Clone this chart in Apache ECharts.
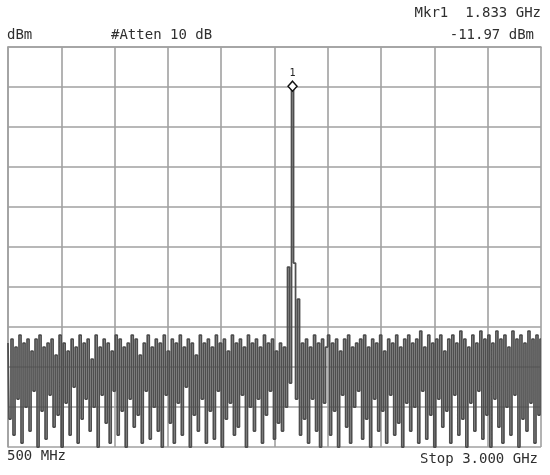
<!DOCTYPE html>
<html style="height: 100%">
<head>
    <meta charset="utf-8">
    <title>Spectrum</title>
</head>
<body style="margin: 0; background: #fff">
<div id="container" style="width: 550px; height: 475px"></div>

<script src="https://cdn.jsdelivr.net/npm/echarts@6/dist/echarts.min.js" type="text/javascript"></script>
<script type="text/javascript">

    // sweep settings (MHz) and reading labels
    var startFreq = 500;
    var stopFreq = 3000;
    var refTop = 0;       // dBm at top graticule line
    var refBottom = -100; // dBm at bottom graticule line
    var divDb = 10;
    var divFreq = 250;

    var headerLeft = ['dBm', '#Atten 10 dB'];
    var markerText = ['Mkr1  1.833 GHz', '-11.97 dBm'];
    var footerText = ['500 MHz', 'Stop 3.000 GHz'];

    // trace amplitude (dBm), one value per sweep point
    var trace = [
        -74,-93,-73,-97,-75,-88,-72,-99,-74,-90,-73,-96,-76,-86,-73,-100,-72,-91,-75,-98,
        -74,-87,-73,-95,-77,-92,-72,-100,-74,-89,-76,-97,-73,-85,-75,-99,-72,-93,-74,-88,
        -73,-96,-78,-90,-72,-100,-75,-87,-73,-94,-74,-99,-76,-86,-72,-97,-73,-91,-75,-100,
        -74,-88,-72,-95,-73,-92,-77,-99,-74,-86,-72,-98,-75,-90,-73,-96,-74,-100,-72,-87,
        -76,-94,-73,-99,-74,-89,-72,-97,-75,-85,-73,-100,-74,-92,-77,-96,-72,-88,-74,-99,
        -73,-91,-75,-98,-72,-86,-74,-100,-73,-93,-76,-89,-72,-97,-74,-95,-73,-87,-75,-100,
        -72,-90,-74,-96,-73,-88,-75,-99,-72,-92,-74,-86,-73,-98,-76,-94,-74,-96,-75,-90,
        -55,-84,-9.8,-54,-88,-63,-97,-74,-93,-73,-99,-75,-88,-72,-96,-74,-100,-73,-89,-75,
        -72,-97,-74,-91,-73,-100,-76,-87,-73,-95,-72,-99,-75,-90,-74,-86,-73,-98,-72,-93,
        -75,-100,-73,-88,-74,-96,-72,-91,-76,-99,-73,-87,-74,-97,-72,-94,-75,-100,-73,-89,
        -72,-96,-74,-90,-73,-99,-71,-86,-75,-98,-72,-92,-74,-100,-73,-88,-72,-95,-76,-91,
        -73,-99,-72,-87,-74,-97,-71,-93,-73,-100,-75,-89,-72,-96,-74,-86,-71,-98,-73,-92,
        -72,-100,-74,-88,-71,-95,-73,-99,-72,-90,-75,-97,-71,-87,-73,-100,-72,-93,-74,-96,
        -71,-89,-73,-99,-72,-92,-73
    ];

    var dom = document.getElementById("container");
    var myChart = echarts.init(dom);

    var step = (stopFreq - startFreq) / (trace.length - 1);
    var points = trace.map(function (v, i) {
        return [startFreq + i * step, v];
    });

    var gridColor = '#a0a0a0';
    var textStyle = {
        fontFamily: 'DejaVu Sans Mono',
        fontSize: 14,
        fill: '#2f2f2f'
    };

    var option = {
        animation: false,
        backgroundColor: '#fff',
        grid: {
            left: 8,
            top: 47,
            width: 533,
            height: 400
        },
        xAxis: {
            type: 'value',
            min: startFreq,
            max: stopFreq,
            interval: divFreq,
            axisLabel: {show: false},
            axisTick: {show: false},
            axisLine: {show: true, lineStyle: {color: gridColor, width: 1.6}},
            splitLine: {show: true, lineStyle: {color: gridColor, width: 1.6}}
        },
        yAxis: {
            type: 'value',
            min: refBottom,
            max: refTop,
            interval: divDb,
            axisLabel: {show: false},
            axisTick: {show: false},
            axisLine: {show: true, lineStyle: {color: gridColor, width: 1.6}},
            splitLine: {show: true, lineStyle: {color: gridColor, width: 1.6}}
        },
        graphic: [
            {type: 'text', left: 7, top: 28, style: Object.assign({text: headerLeft[0]}, textStyle)},
            {type: 'text', left: 111, top: 28, style: Object.assign({text: headerLeft[1]}, textStyle)},
            {type: 'text', right: 9, top: 6, style: Object.assign({text: markerText[0]}, textStyle)},
            {type: 'text', right: 16, top: 28, style: Object.assign({text: markerText[1]}, textStyle)},
            {type: 'text', left: 7, top: 449, style: Object.assign({text: footerText[0]}, textStyle)},
            {type: 'text', right: 12, top: 452, style: Object.assign({text: footerText[1]}, textStyle)}
        ],
        series: [{
            type: 'line',
            data: points,
            step: 'middle',
            showSymbol: false,
            lineStyle: {color: '#4e4e4e', width: 1.75},
            markPoint: {
                symbol: 'diamond',
                symbolSize: [9, 10],
                itemStyle: {color: '#fff', borderColor: '#111', borderWidth: 1.5},
                label: {
                    show: true,
                    position: 'top',
                    distance: 2,
                    formatter: '1',
                    fontFamily: 'DejaVu Sans Mono',
                    fontSize: 10,
                    color: '#222'
                },
                data: [{type: 'max'}]
            }
        }]
    };

    if (option && typeof option === "object") {
        myChart.setOption(option, true);
    }
</script>
</body>
</html>
